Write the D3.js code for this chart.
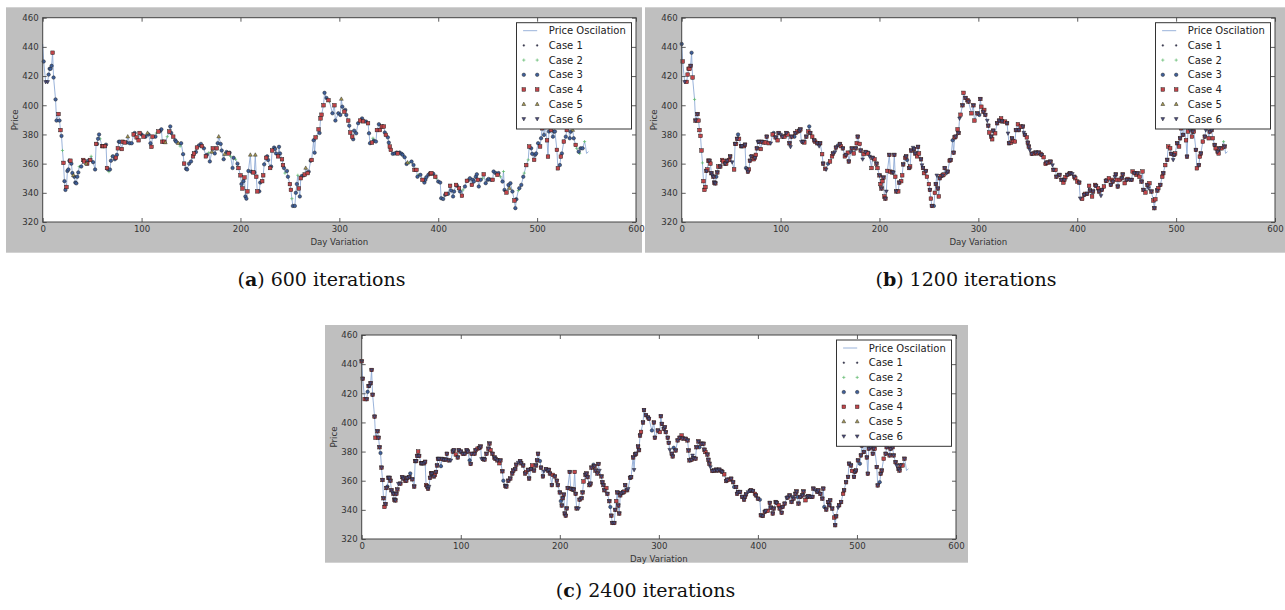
<!DOCTYPE html>
<html><head><meta charset="utf-8">
<script src="https://cdn.jsdelivr.net/npm/d3@7"></script>
<style>body{margin:0;background:#fff}svg{display:block}</style>
</head><body>
<svg id="chart" width="1285" height="610"></svg>
<script>
// ---------------- DATA ----------------
const days = [
0,1,3,5,6,7,8,9,10,11,
13,14,16,17,18,19,20,21,22,23,
24,25,26,27,28,29,30,31,32,33,
34,35,36,37,39,41,42,44,45,46,
48,49,51,53,54,55,56,57,58,60,
61,63,64,65,66,67,68,69,70,71,
73,74,75,76,77,78,80,81,83,85,
86,88,90,92,93,95,97,98,100,102,
104,106,107,109,110,111,114,115,117,119,
120,121,123,124,126,128,129,130,132,134,
135,137,139,140,142,143,145,146,148,150,
152,153,155,156,158,160,161,163,165,166,
168,169,171,172,174,176,177,178,180,181,
183,184,186,188,189,190,192,193,195,197,
198,200,201,202,203,204,205,206,207,208,
210,211,213,214,215,216,217,219,220,222,
223,224,226,227,228,230,231,232,234,235,
236,238,239,240,242,243,244,245,247,248,
250,251,252,253,255,256,257,258,259,260,
261,262,264,265,266,268,269,271,272,274,
275,276,277,279,280,281,282,284,285,287,
289,290,293,295,296,299,301,302,303,305,
306,307,309,310,311,313,314,315,317,319,
321,323,324,327,329,330,331,333,334,335,
337,338,340,341,343,345,346,347,349,350,
351,352,354,356,358,359,361,363,364,366,
368,369,371,373,375,376,378,379,380,382,
384,386,387,388,390,392,393,395,397,398,
400,402,403,405,407,408,410,412,413,415,
416,418,419,421,422,424,425,427,429,430,
432,434,435,436,438,439,440,441,443,445,
446,448,450,451,453,455,456,458,460,461,
463,465,466,467,469,471,472,473,475,477,
478,479,481,482,484,486,487,489,491,492,
494,495,497,498,499,501,503,504,505,507,
508,510,511,512,513,514,516,517,518,520,
521,523,524,525,527,529,530,531,533,534,
536,537,539,540,542,543,544,546,548,549,
550,552];
const prices = [
442,430,416,416,421,425,425,427,436,419,
404,389.5,394,389.5,383,379,369,360.5,348,342,
344,355,356,362,362,360,353.5,352,351,347,
346.5,351,354,358,358,362.5,361.5,360,360,362,
362.5,365,361,356,373.5,373.5,377,380,377,372,
372,372,373,357,356,354.5,356,362,365,365,
363,364,366,370.5,375,375,370,375,374.5,374.5,
378.5,374,374,380,381,378,376,381,380,378.5,
378.5,381,380,374,371.5,378.5,378.5,381,382,382.5,
383.5,375,375,374.5,378.5,382,385.5,381,378.5,376,
375,374,372,374,366.5,360,356.5,356,360,361.5,
365,367,368,371,372.5,373.5,372,370.5,365,366,
367.5,361.5,368,370.5,367,370.5,374,378.5,373.5,369,
363,366.5,368,367,367.5,365,357,364,363,360,
357,352,346,343,348,350.5,337.5,336,341,355,
366,354.5,354,354,366,351,341,341,347,348,
352,359.5,364,365,362.5,357,358,369,371,370,
367,365,371.5,367,363,359,357,353.5,355,351,
346,342,336,331,331,340,346,352,343,337.5,
350,351.5,352,352.5,357,353.5,354.5,362,362.5,376,
367.5,378,378.5,383.5,381,391,393.5,400,408.5,405,
403.5,402.5,394.5,400,389.5,394.5,393.4,404.3,399,395.6,
396.8,393.4,389.5,386,381.3,378.5,376.7,382.6,380.8,387.7,
389.5,391,389,388.8,387.7,380.8,374,374.4,377.4,375.6,
375.1,383,387,383,385.4,385.4,381.3,379.7,378,374.4,
371.7,369.4,366.7,367,367.6,367,367.6,366.7,366,364.4,
359.8,360.7,360.7,361.4,359,355.7,355.7,351,352.3,352.3,
348.9,347,348.9,350.7,352.3,353,353.5,353,351,350,
347.7,347,336.3,335.8,338.6,339.3,339.3,344.8,341.6,337.5,
340.9,345.4,344.8,343.2,340.9,338,342,344.3,348.2,348.4,
350,345.4,348.9,347.7,351,352.7,348.9,344.3,348.9,350,
352.7,346.6,348.9,349.5,348.9,348.9,354.6,353.5,352.3,353.5,
351,347.7,354.6,342,340.2,345.4,343.2,346.6,340.9,334.7,
329.5,335.6,341.6,343.2,345.4,351,353.5,359,362.6,371.7,
370.5,366.7,362.6,366,367,374,371.7,377.4,384.2,379.7,
388,376,364.8,382,390,383,378.5,382,382,369.4,
356.8,359,364.8,367,375.1,378.5,383,388,377.4,381.9,
383,377.4,372.8,370.5,368.2,367,370.5,370.5,375.1,371.7,
367,368.2];

const xTicks = [0,100,200,300,400,500,600];
const yTicks = [320,340,360,380,400,420,440,460];
const seriesNames = ["Price Oscilation","Case 1","Case 2","Case 3","Case 4","Case 5","Case 6"];
const captions = [["a"," 600 iterations"],["b"," 1200 iterations"],["c"," 2400 iterations"]];

// marker code per point: digit = one case; a = cases 4+6; b = cases 3+4+6; 0 = none
const marksA = [
"0366333343","3343432433","4333433533","3332344543","4233433324",
"4434323323","3434334443","5334344434","3533443243","3445243343",
"3523343333","4434334343","2354343533","3534323323","4434343343",
"5343544334","4343343433","3433443233","4423333243","4334543343",
"3424344433","4234333534","3343443333","4343433423","3434443433",
"4433343333","3523344323","4333344342","3333343433","3434342343",
"3433334332","4333343343","2323435334","3323332424","3343334343",
"3443343334","4343434333","5342323320","00"].join("");
const marksB = [
"3464444a34","2aa4444244","4a44a4a6aa","a3a4a44a4a","4a64a4a34a",
"a4a36a4a64","4a4a6a4a44","a4643a4a6a","4a4a6a3a4a","a6a4a43a4a",
"4a6a4a4634","4a6a3a4a4a","4a6a4a4a4a","64a4364a4a","4a4a4a4a64",
"a4a6a4a4a4","4a4a3a4a6a","a4a4a6a4a4","4a4a34a6a4","a4a4a6a4a3",
"a4a4a64a4a","4a4a4a3a4a","4a6a4a4a4a","a4a4a6a4a4","4a4a4a6a4a",
"a6a4a4a4a4","4a4a6a4a2a","a4a4a4a6a4","4a64a4a4a4","a4a4a6a4a4",
"4a4a6a4a4a","a4a46a4a4a","4a4a4a64a4","a4a4a4a4a4","4a6a4a4a4a",
"a4a4a64a4a","4a4a4a6a4a","a4a4a4a42a","00"].join("");
const marksC = [
"aa4a3a6aaa","a4aaa3aaa4","aa3aaaa6aa","aaa6aaa4aa","a3aaaaa4aa",
"aaa4aa6aaa","a4aaaa3aaa","aa6aa4aaaa","aaa3aaaa4a","a6aaaaa4aa",
"aa4aa3aaaa","aaaa6aaaa4","aaa4aaaa3a","a6aaaaa4aa","aa3aaaaaaa",
"aaaa4aa6aa","a4aaaaaa3a","aaa6aaaa4a","a3aaaa4aaa","aaa4aa6aaa",
"6aaaaa4aaa","aa3aaa4aaa","aaaa6aa3aa","a4aaaaaa6a","aaa3aaa4aa",
"a6aaaaaaa4","aa4aa3aaaa","aaaa6aaa4a","a3aaaa4aaa","aaa4aaaa6a",
"aa6aaa3aaa","a4aaaaa6aa","aaa3aaaaa4","aa6aa4aaaa","a4aaaa3aaa",
"aaaa6aaa4a","a3aa4aaaaa","aaa6aaa4a0","00"].join("");
const codeMap = {"0":[],"1":[1],"2":[2],"3":[3],"4":[4],"5":[5],"6":[6],"a":[4,6],"b":[3,4,6]};

// ---------------- STYLE / LAYOUT ----------------
const caseColors = {1:"#444466",2:"#5cb86a",3:"#3f5f9a",4:"#c0454a",5:"#a89a55",6:"#4d4d80"};
const lineColor = "#8eaad6";
const panels = [
  {g:[6,7.3,636,245.4],  ax:[42.7,636,17.7,222], cap:[321.5,286], marks:marksA},
  {g:[645,7.3,640,245.4],ax:[681.7,1275,17.7,222], cap:[966,286], marks:marksB},
  {g:[325,325,643,237.7],ax:[361.7,956,335,539], cap:[645.5,597], marks:marksC}
];

const svg = d3.select("#chart");
const sans = "'DejaVu Sans', sans-serif";

function drawMarker(sel, c, x, y) {
  const edge = "#1a1a1a", ew = 0.45;
  if (c === 1) {
    sel.append("circle").attr("cx",x).attr("cy",y).attr("r",0.9).attr("fill",caseColors[1]).attr("stroke",edge).attr("stroke-width",0.3);
  } else if (c === 2) {
    sel.append("path").attr("d",`M${x-1.6},${y}H${x+1.6}M${x},${y-1.6}V${y+1.6}`).attr("stroke",caseColors[2]).attr("stroke-width",0.7).attr("fill","none");
  } else if (c === 3) {
    sel.append("circle").attr("cx",x).attr("cy",y).attr("r",1.75).attr("fill",caseColors[3]).attr("stroke",edge).attr("stroke-width",ew);
  } else if (c === 4) {
    sel.append("rect").attr("x",x-1.8).attr("y",y-1.8).attr("width",3.6).attr("height",3.6).attr("fill",caseColors[4]).attr("stroke",edge).attr("stroke-width",ew);
  } else if (c === 5) {
    sel.append("path").attr("d",`M${x},${y-2.1}L${x+1.9},${y+1.3}L${x-1.9},${y+1.3}Z`).attr("fill",caseColors[5]).attr("stroke",edge).attr("stroke-width",ew);
  } else if (c === 6) {
    sel.append("path").attr("d",`M${x},${y+2.1}L${x+1.9},${y-1.3}L${x-1.9},${y-1.3}Z`).attr("fill",caseColors[6]).attr("stroke",edge).attr("stroke-width",ew);
  }
}

panels.forEach((p, pi) => {
  const [gx, gy, gw, gh] = p.g;
  const [x0, x1, y0, y1] = p.ax;
  const G = svg.append("g");
  G.append("rect").attr("x",gx).attr("y",gy).attr("width",gw).attr("height",gh).attr("fill","#bfbfbf");
  G.append("rect").attr("x",x0).attr("y",y0).attr("width",x1-x0).attr("height",y1-y0).attr("fill","#fff");

  const x = d3.scaleLinear().domain([0,600]).range([x0,x1]);
  const y = d3.scaleLinear().domain([320,460]).range([y1,y0]);

  const line = d3.line().x((d,i)=>x(days[i])).y((d,i)=>y(prices[i]));
  G.append("path").datum(prices).attr("d",line).attr("fill","none").attr("stroke",lineColor).attr("stroke-width",0.9);

  const codes = p.marks.split("").map(ch => codeMap[ch] || []);
  const M = G.append("g");
  for (let c = 1; c <= 6; c++) {
    days.forEach((d, i) => {
      if (codes[i] && codes[i].includes(c)) drawMarker(M, c, x(d), y(prices[i]));
    });
  }

  const fmt = d3.format("d");
  const bx = G.append("g").attr("transform",`translate(0,${y1})`)
    .call(d3.axisBottom(x).tickValues(xTicks).tickFormat(fmt).tickSize(-4).tickPadding(4));
  const tx = G.append("g").attr("transform",`translate(0,${y0})`)
    .call(d3.axisTop(x).tickValues(xTicks).tickFormat("").tickSize(-4));
  const ly = G.append("g").attr("transform",`translate(${x0},0)`)
    .call(d3.axisLeft(y).tickValues(yTicks).tickFormat(fmt).tickSize(-4).tickPadding(4));
  const ry = G.append("g").attr("transform",`translate(${x1},0)`)
    .call(d3.axisRight(y).tickValues(yTicks).tickFormat("").tickSize(-4));
  [bx,tx,ly,ry].forEach(a => {
    a.select(".domain").remove();
    a.selectAll("line").attr("stroke","#333").attr("stroke-width",0.8);
    a.selectAll("text").attr("font-family",sans).attr("font-size","8.6px").attr("fill","#333");
  });
  bx.selectAll("text").attr("dy","0.72em");

  G.append("rect").attr("x",x0).attr("y",y0).attr("width",x1-x0).attr("height",y1-y0)
    .attr("fill","none").attr("stroke","#444").attr("stroke-width",1);

  G.append("text").attr("x",(x0+x1)/2).attr("y",y1+23).attr("text-anchor","middle")
    .attr("font-family",sans).attr("font-size","8.6px").attr("fill","#333").text("Day Variation");
  G.append("text").attr("transform",`translate(${x0-25},${(y0+y1)/2}) rotate(-90)`).attr("text-anchor","middle")
    .attr("font-family",sans).attr("font-size","8.6px").attr("fill","#333").text("Price");

  const lw = 115, lh = 106.3;
  const lx = x1 - 4.5 - lw, lyy = y0 + 5;
  const L = G.append("g");
  L.append("rect").attr("x",lx).attr("y",lyy).attr("width",lw).attr("height",lh)
    .attr("fill","#fff").attr("stroke","#333").attr("stroke-width",1);
  seriesNames.forEach((name, k) => {
    const ry0 = lyy + 8 + k*14.7;
    if (k === 0) {
      L.append("line").attr("x1",lx+6.6).attr("x2",lx+20.7).attr("y1",ry0).attr("y2",ry0)
        .attr("stroke",lineColor).attr("stroke-width",0.9);
    } else {
      drawMarker(L, k, lx+7.3, ry0);
      drawMarker(L, k, lx+20.7, ry0);
    }
    L.append("text").attr("x",lx+32.3).attr("y",ry0).attr("dy","0.36em")
      .attr("font-family",sans).attr("font-size","10px").attr("fill","#222").text(name);
  });

  const cap = svg.append("text").attr("x",p.cap[0]).attr("y",p.cap[1]).attr("text-anchor","middle")
    .attr("font-family","'DejaVu Serif', serif").attr("font-size","19px").attr("fill","#111");
  cap.append("tspan").text("(");
  cap.append("tspan").attr("font-weight","bold").text(captions[pi][0]);
  cap.append("tspan").text(")" + captions[pi][1]);
});
</script>
</body></html>
